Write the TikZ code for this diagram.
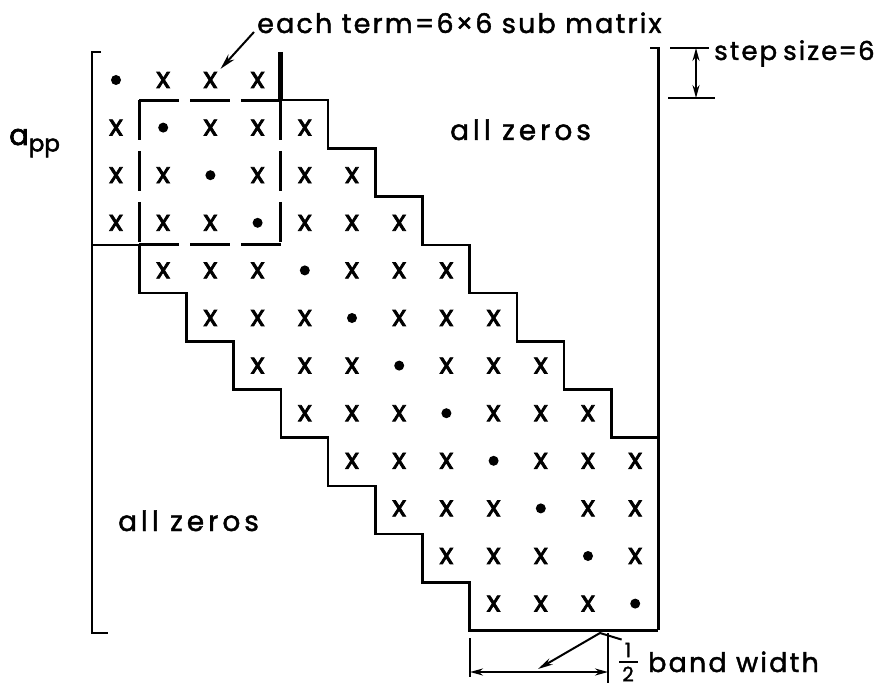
\documentclass[tikz,border=0pt]{standalone}
\usepackage{fontspec}
\setmainfont{Poppins}
\newfontfamily\lblfont{Poppins}[FakeBold=1.6,LetterSpace=8]
\newfontfamily\zfont{Poppins}[FakeBold=1.6,LetterSpace=14]
\newfontfamily\xfont{Poppins}[FakeBold=2.4]
\usetikzlibrary{arrows.meta}
\begin{document}
\begin{tikzpicture}[x=1pt,y=-1pt,
  stair/.style={line width=2.6pt, line join=miter},
  brk/.style={line width=2.8pt},
  dbox/.style={line width=3pt, dash pattern=on 40pt off 10.8pt},
  lbl/.style={inner sep=0pt, font=\lblfont\fontsize{27}{30}\selectfont},
  zlbl/.style={inner sep=0pt, font=\zfont\fontsize{28}{30}\selectfont},
  fraclbl/.style={inner sep=0pt, font=\lblfont\fontsize{20}{20}\selectfont},
  crossm/.style={inner sep=0pt, font=\xfont\fontsize{29}{30}\selectfont},
  dotm/.style={circle, fill, inner sep=0pt, minimum size=10pt},
  arr/.style={line width=2pt, -{Stealth[length=16pt,width=8pt]}},
  dimarr/.style={line width=1.8pt, {Stealth[length=13pt,width=7pt]}-{Stealth[length=13pt,width=7pt]}},
  thin/.style={line width=1.8pt},
]
\useasboundingbox (0,0) rectangle (882,687);
% matrix entries
\foreach \i in {1,...,12}{
  \foreach \j in {1,...,12}{
    \pgfmathtruncatemacro\d{abs(\i-\j)}
    \pgfmathsetmacro\xx{116+47.2*(\j-1)}
    \pgfmathsetmacro\yy{80+47.6*(\i-1)}
    \ifnum\d=0
      \node[dotm] (m-\i-\j) at (\xx,\yy) {};
    \else\ifnum\d<4
      \node[crossm] (m-\i-\j) at (\xx,\yy) {x};
    \fi\fi
  }
}
% brackets
\draw[brk] (101,52) -- (92,52) -- (92,633) -- (108,633);
\draw[brk] (650,48) -- (658.4,48) -- (658.4,630.4);
% upper staircase
\draw[line width=5pt] (280.8,52) -- (280.8,100.2);
\draw[stair] (280.8,100.2) -| (328,148.4) -| (375.2,196.6) -| (422.4,244.8)
  -| (469.6,293) -| (516.8,341.2) -| (564,389.4) -| (611.2,437.6) -- (658.4,437.6);
% lower staircase
\draw[stair] (92,244.8) -- (139.2,244.8) |- (186.4,293) |- (233.6,341.2) |- (280.8,389.4)
  |- (328,437.6) |- (375.2,485.8) |- (422.4,534) |- (469.6,582.2) |- (658.4,630.4);
% dashed sub matrix box
\draw[dbox] (139.2,100.2) -- (280.8,100.2);
\draw[dbox] (139.2,100.2) -- (139.2,244.8);
\draw[dbox] (280.8,100.2) -- (280.8,244.8);
\draw[dbox] (139.2,244.8) -- (280.8,244.8);
% labels
\node[lbl, anchor=base west] (term) at (257,33) {each term=6×6 sub matrix};
\draw[arr] ([xshift=-3pt,yshift=1pt]term.base west) -- ([xshift=3pt,yshift=3pt]m-1-3.north east);
\node[inner sep=0pt, anchor=base west] (app) at (9,145) {\xfont\fontsize{29}{30}\selectfont a\raisebox{-0.4ex}{\fontsize{23}{24}\selectfont pp}};
\node[zlbl, anchor=base west] (z1) at (450,140) {all zeros};
\node[zlbl, anchor=base west] (z2) at (118,531) {all zeros};
% step size
\coordinate (st) at (696,48);
\coordinate (sb) at (696,98);
\draw[thin] (670,48) -- (709,48);
\draw[thin] (668,98) -- (715,98);
\draw[dimarr] (st) -- (sb);
\node[lbl, anchor=base west, font=\lblfont\fontsize{26}{30}\selectfont] (step) at (714,60) {step\hspace{6pt}size\hspace{1pt}=\hspace{1pt}6};
% half band width
\coordinate (bl) at (470,672);
\coordinate (br) at (608,672);
\draw[thin] (470,638) -- (470,677);
\draw[thin] (608,633) -- (608,683);
\draw[dimarr] (bl) -- (br);
\node[fraclbl] (f1) at (628,650) {1};
\node[fraclbl] (f2) at (628,674) {2};
\draw[line width=1.8pt] (619,662) -- (638,662);
\node[lbl, anchor=base west] (hbw) at (648,672) {band width};
\coordinate (bend) at (600,633);
\draw[line width=2pt, -{Stealth[length=15pt,width=7pt]}] ([xshift=-3pt,yshift=3pt]f1.north west) -- (bend) -- (538,669);
\end{tikzpicture}
\end{document}
